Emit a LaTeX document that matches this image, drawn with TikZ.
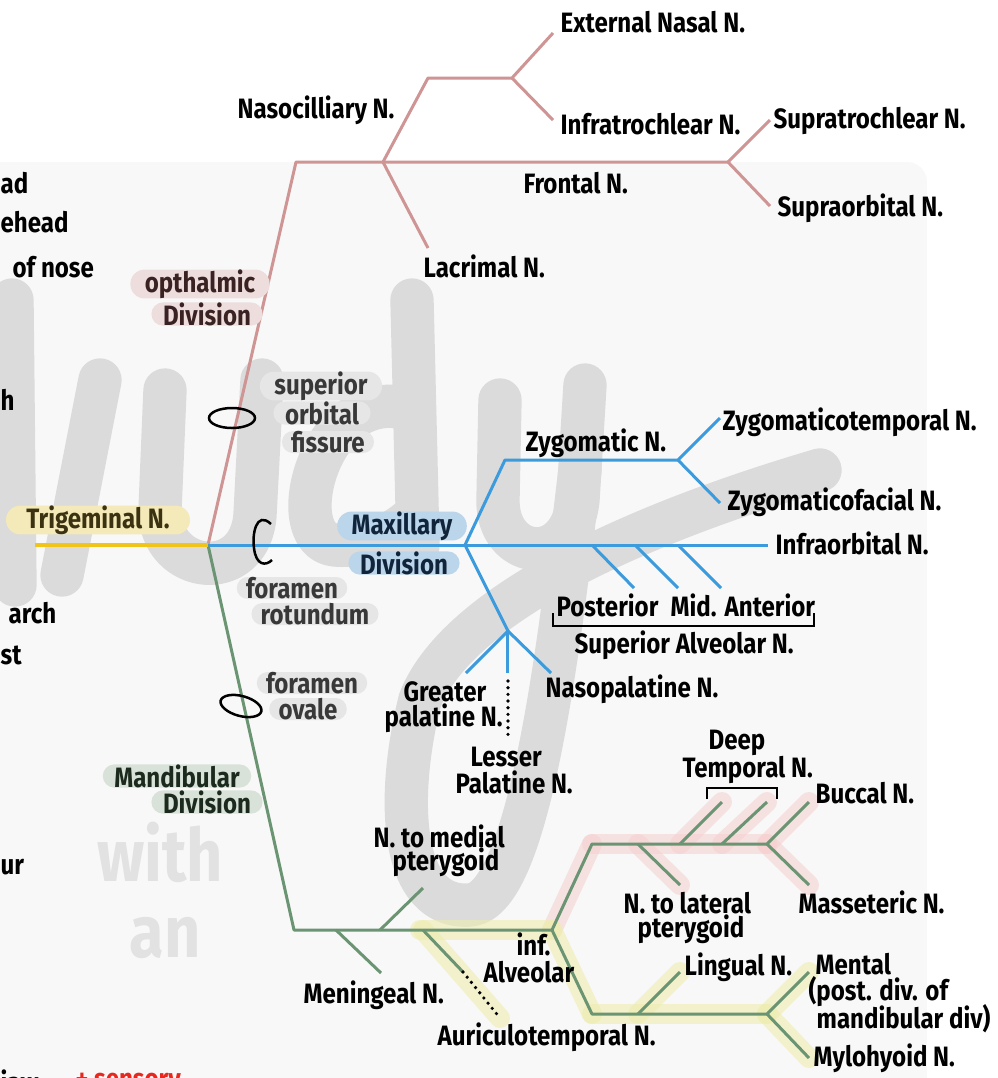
\documentclass[tikz,border=0pt]{standalone}
\usepackage{fontspec}
\setmainfont{Fira Sans}[FakeStretch=0.86]
\usetikzlibrary{shapes.misc}
\definecolor{ophc}{HTML}{CF9494}
\definecolor{maxc}{HTML}{3C9BDD}
\definecolor{manc}{HTML}{6B9473}
\definecolor{tric}{HTML}{F0C419}
\definecolor{panelc}{HTML}{F8F8F8}
\definecolor{wmc}{HTML}{DBDBDB}
\definecolor{wmlight}{HTML}{E2E2E2}
\definecolor{ophpill}{HTML}{EEDDDD}
\definecolor{maxpill}{HTML}{BBD5EB}
\definecolor{manpill}{HTML}{D8E2D8}
\definecolor{tripill}{HTML}{F4E9B8}
\definecolor{graypill}{HTML}{E6E6E6}
\definecolor{ophtxt}{HTML}{3A2222}
\definecolor{maxtxt}{HTML}{10243A}
\definecolor{mantxt}{HTML}{1B2A1D}
\definecolor{tritxt}{HTML}{3A3210}
\definecolor{graytxt}{HTML}{383838}
\definecolor{pinkhl}{HTML}{F6CFCF}
\definecolor{yelhl}{HTML}{EEEDB0}
\definecolor{sensred}{HTML}{E8281E}
\begin{document}
\begin{tikzpicture}[x=0.3pt,y=-0.3pt,
  lbl/.style={font=\bfseries\fontsize{8.4pt}{9pt}\selectfont, inner sep=0pt, anchor=west},
  pilltxt/.style={font=\bfseries\fontsize{8.4pt}{9pt}\selectfont, rounded rectangle, inner sep=0pt, minimum height=6.6pt},
  ophline/.style={draw=ophc, line width=0.9pt, line join=round},
  maxline/.style={draw=maxc, line width=0.9pt, line join=round},
  manline/.style={draw=manc, line width=0.9pt, line join=round},
  triline/.style={draw=tric, line width=1.1pt},
  pinkband/.style={draw=pinkhl, line width=6pt, line cap=round, opacity=0.55},
  yelband/.style={draw=yelhl, line width=6pt, line cap=round, opacity=0.6},
  dotline/.style={draw=black, line width=1.1pt, dash pattern=on 0pt off 2pt, line cap=round},
  ring/.style={draw=black, line width=0.75pt},
  wm/.style={draw=wmc, line width=13pt, line cap=round, line join=round},
  wmtext/.style={text=wmlight, font=\bfseries\fontsize{22pt}{24pt}\selectfont, inner sep=0pt}
]
\useasboundingbox (0,0) rectangle (998,1078);
\fill[white] (0,0) rectangle (998,1078);
\fill[panelc, rounded corners=6pt] (-30,162) rectangle (927,1120);

% watermark strokes
\draw[wm] (12,300) -- (15,585);
\draw[wm] (100,380) -- (62,575);
\draw[wm] (165,390) -- (160,510) .. controls (160,575) and (250,585) .. (255,515) -- (262,380);
\draw[wm] (412,300) -- (418,545);
\draw[wm] (412,410) .. controls (320,380) and (280,540) .. (335,545) .. controls (370,548) and (400,530) .. (415,515);
\draw[wm] (500,400) -- (498,500) .. controls (497,560) and (570,570) .. (578,500) -- (585,385);
\draw[wm] (580,470) .. controls (560,640) and (530,900) .. (470,905) .. controls (400,910) and (395,800) .. (420,700) .. controls (460,600) and (650,520) .. (820,470);
\node[wmtext] (wmA) at (160,852) {with};
\node[wmtext] (wmB) at (165,938) {an};

% shared points
\coordinate (J) at (208,545);
\coordinate (T0) at (35,545);
\coordinate (D1) at (294,930);
\coordinate (IA) at (552,930);
\coordinate (HS) at (420,930);
\coordinate (MG1) at (336,930); \coordinate (MG2) at (381,973);
\coordinate (MP1) at (380,930); \coordinate (MP2) at (423,888);
\coordinate (AT1) at (423,930); \coordinate (AT2) at (463,972); \coordinate (AT3) at (500,1018);
\coordinate (U1) at (592,844); \coordinate (U2) at (767,844);
\coordinate (LT1) at (638,844); \coordinate (LT2) at (680,885);
\coordinate (DA1) at (680,844); \coordinate (DA2) at (722,802);
\coordinate (DB1) at (722,844); \coordinate (DB2) at (767,802);
\coordinate (BU) at (809,802); \coordinate (MS) at (809,885);
\coordinate (L1) at (592,1014); \coordinate (L2) at (767,1014);
\coordinate (LG1) at (638,1014); \coordinate (LG2) at (680,972);
\coordinate (ME) at (809,972); \coordinate (MY) at (809,1058);

% highlight bands
\draw[pinkband] (IA) -- (U1);
\draw[pinkband] (U1) -- (U2);
\draw[pinkband] (LT1) -- (LT2);
\draw[pinkband] (DA1) -- (DA2);
\draw[pinkband] (DB1) -- (DB2);
\draw[pinkband] (U2) -- (BU);
\draw[pinkband] (U2) -- (MS);
\draw[yelband] (HS) -- (IA);
\draw[yelband] (AT1) -- (AT3);
\draw[yelband] (IA) -- (L1);
\draw[yelband] (L1) -- (L2);
\draw[yelband] (LG1) -- (LG2);
\draw[yelband] (L2) -- (ME);
\draw[yelband] (L2) -- (MY);

% ophthalmic
\coordinate (O1) at (296,162);
\coordinate (N1) at (383,162);
\coordinate (F1) at (728,162);
\coordinate (N2) at (428,78);
\coordinate (N3) at (512,78);
\coordinate (EN) at (553,33);
\coordinate (IT) at (553,120);
\coordinate (LC) at (428,248);
\coordinate (ST) at (770,120);
\coordinate (SO) at (770,206);
\draw[ophline] (J) -- (O1) -- (N1) -- (F1);
\draw[ophline] (N1) -- (N2) -- (N3) -- (EN);
\draw[ophline] (N3) -- (IT);
\draw[ophline] (N1) -- (LC);
\draw[ophline] (F1) -- (ST);
\draw[ophline] (F1) -- (SO);

% maxillary
\coordinate (M) at (465,545);
\coordinate (IO) at (768,545);
\coordinate (Z1) at (505,460); \coordinate (Z2) at (678,460);
\coordinate (ZT) at (720,418); \coordinate (ZF) at (720,503);
\coordinate (A1) at (592,545); \coordinate (A1e) at (634,588);
\coordinate (A2) at (635,545); \coordinate (A2e) at (678,588);
\coordinate (A3) at (678,545); \coordinate (A3e) at (721,588);
\coordinate (P) at (508,631);
\coordinate (GP) at (466,673); \coordinate (LP) at (508,673); \coordinate (NP) at (551,673);
\coordinate (LPd1) at (508,681); \coordinate (LPd2) at (508,736);
\draw[maxline] (J) -- (IO);
\draw[maxline] (M) -- (Z1) -- (Z2) -- (ZT);
\draw[maxline] (Z2) -- (ZF);
\draw[maxline] (A1) -- (A1e);
\draw[maxline] (A2) -- (A2e);
\draw[maxline] (A3) -- (A3e);
\draw[maxline] (M) -- (P) -- (GP);
\draw[maxline] (P) -- (LP);
\draw[maxline] (P) -- (NP);
\draw[dotline] (LPd1) -- (LPd2);

% mandibular
\draw[manline] (J) -- (D1) -- (IA);
\draw[manline] (MG1) -- (MG2);
\draw[manline] (MP1) -- (MP2);
\draw[manline] (AT1) -- (AT2);
\draw[dotline] (AT2) -- (AT3);
\draw[manline] (IA) -- (U1) -- (U2) -- (BU);
\draw[manline] (U2) -- (MS);
\draw[manline] (LT1) -- (LT2);
\draw[manline] (DA1) -- (DA2);
\draw[manline] (DB1) -- (DB2);
\draw[manline] (IA) -- (L1) -- (L2) -- (ME);
\draw[manline] (L2) -- (MY);
\draw[manline] (LG1) -- (LG2);

% trigeminal
\draw[triline] (T0) -- (J);

% rings
\draw[ring] (232,418) ellipse [x radius=23, y radius=10];
\draw[ring] (271,524) .. controls (256,510) and (252,535) .. (254,548) .. controls (256,566) and (266,566) .. (272,560);
\draw[ring, rotate around={-15:(241,706)}] (241,706) ellipse [x radius=21, y radius=10];

% pills
\node[pilltxt, fill=tripill, text=tritxt, minimum width=55.2pt] (tri) at (98,520) {Trigeminal N.};
\node[pilltxt, fill=ophpill, text=ophtxt, minimum width=37.8pt] (ophA) at (200,284) {opthalmic};
\node[pilltxt, fill=ophpill, text=ophtxt, minimum width=30.3pt] (ophB) at (207,314) {Division};
\node[pilltxt, fill=graypill, text=graytxt, minimum width=33.9pt] (sofA) at (321,386) {superior};
\node[pilltxt, fill=graypill, text=graytxt, minimum width=26.4pt] (sofB) at (322,413) {orbital};
\node[pilltxt, fill=graypill, text=graytxt, minimum width=27pt] (sofC) at (328,442) {fissure};
\node[pilltxt, fill=maxpill, text=maxtxt, minimum width=34.8pt] (maxA) at (402,526) {Maxillary};
\node[pilltxt, fill=maxpill, text=maxtxt, minimum width=30.6pt] (maxB) at (404,563) {Division};
\node[pilltxt, fill=graypill, text=graytxt, minimum width=31.5pt] (frA) at (292,588) {foramen};
\node[pilltxt, fill=graypill, text=graytxt, minimum width=37.2pt] (frB) at (315,614) {rotundum};
\node[pilltxt, fill=graypill, text=graytxt, minimum width=31.8pt] (foA) at (312,683) {foramen};
\node[pilltxt, fill=graypill, text=graytxt, minimum width=21pt] (foB) at (308,709) {ovale};
\node[pilltxt, fill=manpill, text=mantxt, minimum width=42pt] (manA) at (177,776) {Mandibular};
\node[pilltxt, fill=manpill, text=mantxt, minimum width=30pt] (manB) at (207,802) {Division};

% ophthalmic labels
\node[lbl] (extn) at (560,22) {External Nasal N.};
\node[lbl] (naso) at (237,110) {Nasocilliary N.};
\node[lbl] (infr) at (560,124) {Infratrochlear N.};
\node[lbl] (supt) at (773,121) {Supratrochlear N.};
\node[lbl] (fron) at (523,183) {Frontal N.};
\node[lbl] (supo) at (777,208) {Supraorbital N.};
\node[lbl] (lacr) at (423,266) {Lacrimal N.};

% maxillary labels
\node[lbl] (zygo) at (525,443) {Zygomatic N.};
\node[lbl] (zygt) at (722,422) {Zygomaticotemporal N.};
\node[lbl] (zygf) at (727,502) {Zygomaticofacial N.};
\node[lbl] (info) at (775,543) {Infraorbital N.};
\node[lbl] (post) at (556,605) {Posterior};
\node[lbl] (midd) at (670,605) {Mid.};
\node[lbl] (ante) at (724,605) {Anterior};
\node[lbl] (sane) at (574,645) {Superior~Alveolar N.};
\draw[ring] (553,613) -- (553,626) -- (814,626) -- (814,613);
\node[lbl] (grA) at (403,692) {Greater};
\node[lbl] (grB) at (384,718) {palatine N.};
\node[lbl] (lsA) at (470,757) {Lesser};
\node[lbl] (lsB) at (455,782) {Palatine N.};
\node[lbl] (nasp) at (545,689) {Nasopalatine N.};

% mandibular labels
\node[lbl, anchor=center] (dpA) at (737,743) {Deep};
\node[lbl] (dpB) at (682,770) {Temporal N.};
\draw[ring] (707,799) -- (707,788) -- (777,788) -- (777,799);
\node[lbl] (bucc) at (815,793) {Buccal N.};
\node[lbl] (mpA) at (373,836) {N. to medial};
\node[lbl] (mpB) at (392,862) {pterygoid};
\node[lbl] (lpA) at (623,903) {N. to lateral};
\node[lbl] (lpB) at (637,929) {pterygoid};
\node[lbl] (mass) at (798,902) {Masseteric N.};
\node[lbl] (iaA) at (516,944) {inf.};
\node[lbl] (iaB) at (483,972) {Alveolar};
\node[lbl] (ling) at (684,967) {Lingual N.};
\node[lbl] (mnA) at (815,964) {Mental};
\node[lbl] (mnB) at (808,992) {(post. div. of};
\node[lbl] (mnC) at (816,1019) {mandibular div)};
\node[lbl] (myl) at (813,1058) {Mylohyoid N.};
\node[lbl] (meni) at (303,995) {Meningeal N.};
\node[lbl] (auri) at (437,1037) {Auriculotemporal N.};

% partial labels at left edge
\node[lbl] (pa) at (0,183) {ad};
\node[lbl] (pb) at (0,222) {ehead};
\node[lbl] (pc) at (12,267) {of nose};
\node[lbl] (pd) at (0,400) {h};
\node[lbl] (pe) at (8,613) {arch};
\node[lbl] (pf) at (0,655) {st};
\node[lbl] (pg) at (0,867) {ur};
\node[lbl] (ph) at (0,1084) {jaw};
\node[lbl, text=sensred] (pi) at (75,1084) {+ sensory};
\end{tikzpicture}
\end{document}
